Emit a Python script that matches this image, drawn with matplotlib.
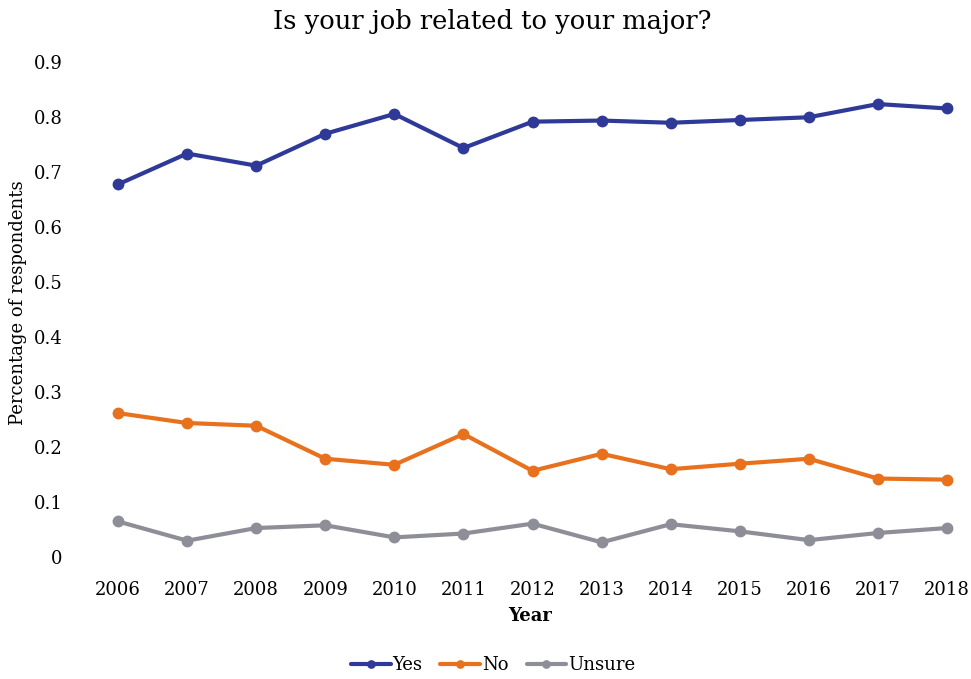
import matplotlib.pyplot as plt

plt.rcParams['font.family'] = ['DejaVu Serif']

years = [2006, 2007, 2008, 2009, 2010, 2011, 2012, 2013, 2014, 2015, 2016, 2017, 2018]
yes = [0.677, 0.733, 0.711, 0.769, 0.805, 0.743, 0.791, 0.793, 0.789, 0.794, 0.799, 0.823, 0.815]
no = [0.261, 0.243, 0.238, 0.178, 0.167, 0.223, 0.156, 0.187, 0.159, 0.169, 0.178, 0.142, 0.140]
unsure = [0.064, 0.029, 0.052, 0.057, 0.035, 0.042, 0.060, 0.026, 0.059, 0.046, 0.030, 0.043, 0.052]

series = [("Yes", yes, "#2f3a98"), ("No", no, "#e8711e"), ("Unsure", unsure, "#8e8e98")]
yticks = [0, 0.1, 0.2, 0.3, 0.4, 0.5, 0.6, 0.7, 0.8, 0.9]
ytick_labels = ["0", "0.1", "0.2", "0.3", "0.4", "0.5", "0.6", "0.7", "0.8", "0.9"]

W, H = 971, 679
fig = plt.figure(figsize=(W / 100, H / 100), dpi=100)
# axes placed in pixel terms: left 100, right 960, top 50, bottom 570
ax = fig.add_axes([100 / W, 1 - 570 / H, 860 / W, 520 / H])

for name, vals, col in series:
    ax.plot(years, vals, color=col, lw=3, marker="o", ms=7.5, label=name,
            solid_capstyle="round")

ax.set_xlim(2005.739, 2018.188)
ax.set_ylim(-0.0243, 0.9213)
ax.set_xticks(years)
ax.set_xticklabels([str(y) for y in years], fontsize=13)
ax.set_yticks(yticks)
ax.set_yticklabels(ytick_labels, fontsize=13)
ax.tick_params(axis="both", length=0)
ax.tick_params(axis="y", pad=27)
ax.tick_params(axis="x", pad=8)
for s in ax.spines.values():
    s.set_visible(False)

ax.set_xlabel("Year", fontsize=13, fontweight="bold", labelpad=6)
fig.text(18 / W, 1 - 303 / H, "Percentage of respondents", rotation=90,
         ha="center", va="center", fontsize=13)
fig.text(492 / W, 1 - 22 / H, "Is your job related to your major?",
         ha="center", va="center", fontsize=18.5)

fig.legend(loc="center", bbox_to_anchor=(493 / W, 1 - 665 / H), ncol=3,
           frameon=False, fontsize=13, handlelength=2.2, handletextpad=0.1,
           columnspacing=1.0, markerscale=0.7)

fig.savefig("out.png", dpi=100)
